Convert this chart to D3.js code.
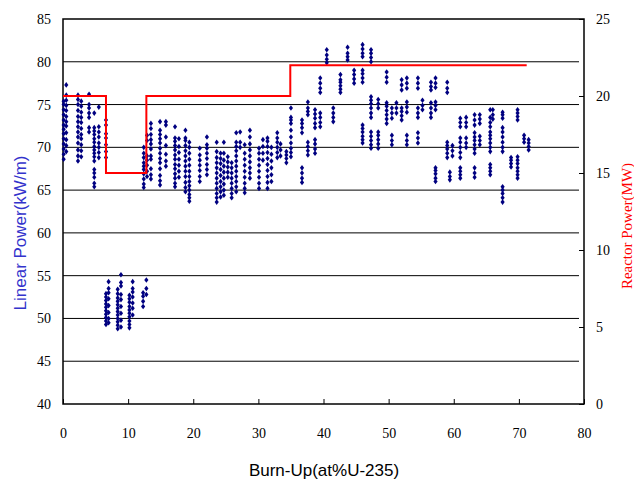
<!DOCTYPE html>
<html>
<head>
<meta charset="utf-8">
<script src="https://cdn.jsdelivr.net/npm/d3@7"></script>
<style>
  body { margin: 0; background: #fff; }
</style>
</head>
<body>
<div id="chart"></div>
<script>

  // burn-up (at%U-235) and measured linear power (kW/m), one entry per column of points
  var cycle1 = [
    [0.1, [68.6, 69.2, 69.8, 70.4, 71.0, 71.6, 72.1, 72.6, 73.2, 73.8, 74.4, 75.0, 75.4]],
    [0.5, [69.5, 70.2, 70.9, 71.7, 72.5, 73.0, 73.6, 74.3, 74.9, 75.5, 76.1, 77.3]],
    [2.3, [68.4, 69.0, 69.7, 70.5, 71.2, 71.8, 72.4, 73.0, 73.6, 74.3, 75.0, 75.6, 76.1]],
    [2.8, [68.9, 69.6, 70.3, 71.0, 71.5, 72.2, 72.9, 73.5, 74.1, 74.8, 75.4]],
    [4.0, [71.8, 72.3, 73.5, 74.0, 74.6, 75.0, 76.2]],
    [4.8, [65.4, 65.8, 66.5, 67.0, 67.4, 68.4, 68.9, 69.3, 69.7, 70.1, 70.6, 71.0, 71.5, 71.9, 72.3, 74.0]],
    [5.5, [68.8, 69.4, 70.0, 70.5, 71.2, 71.8, 72.4, 74.7]],
    [6.6, [68.8, 69.5, 70.3, 71.1, 71.6, 72.6, 73.2]]
  ];

  var cycle2 = [
    [6.6, [49.3, 49.7, 50.1, 50.5, 50.9, 51.3, 51.7, 52.1, 52.5, 52.9]],
    [7.0, [49.5, 50.0, 50.7, 51.5, 52.3, 53.0, 53.5, 54.3]],
    [8.4, [48.8, 49.2, 49.6, 50.0, 50.4, 50.8, 51.2, 51.6, 52.0, 52.4, 52.9, 53.4]],
    [8.9, [49.0, 49.8, 50.6, 51.4, 52.2, 52.8, 53.8, 54.2, 55.1]],
    [10.2, [48.9, 49.3, 49.7, 50.2, 50.6, 51.0, 51.4, 51.9, 52.3, 52.7]],
    [10.7, [50.4, 51.2, 51.8, 52.5, 53.1, 53.5, 54.3]],
    [12.3, [51.4, 52.0, 52.6, 53.0]],
    [12.8, [52.8, 53.5, 54.5]]
  ];

  var cycle3 = [
    [12.4, [65.3, 65.7, 66.3, 66.9, 67.4, 67.8, 68.2, 68.8, 69.3, 70.0]],
    [12.9, [66.6, 67.2, 67.9, 68.5, 69.0, 70.8, 71.4]],
    [13.5, [66.3, 66.8, 67.5, 68.6, 69.0, 69.8, 70.4, 70.9, 71.5, 72.2, 72.8]],
    [14.9, [65.6, 66.1, 66.7, 67.5, 68.2, 68.7, 69.3, 69.9, 70.5, 71.0, 71.5, 72.0, 73.0]],
    [15.8, [67.8, 68.4, 69.2, 70.2, 71.2, 72.6, 73.0]],
    [17.2, [65.4, 65.8, 66.4, 66.9, 67.5, 68.0, 68.6, 69.1, 69.7, 70.2, 70.7, 71.1, 72.4]],
    [17.8, [66.5, 67.2, 67.9, 68.6, 69.4, 70.1, 71.0]],
    [18.8, [64.8, 65.3, 65.9, 66.6, 67.2, 67.8, 68.4, 69.0, 69.6, 70.2, 70.8, 71.1, 72.0]],
    [19.4, [63.7, 64.1, 64.5, 65.0, 65.5, 66.0, 66.6, 67.2, 67.9, 68.6, 69.3, 70.0, 70.6]],
    [21.0, [66.0, 66.6, 67.3, 67.9, 68.5, 69.1, 69.9]],
    [22.1, [66.8, 67.4, 68.0, 68.7, 69.3, 69.9, 70.3, 71.2]],
    [23.6, [63.6, 64.1, 64.6, 65.2, 65.8, 66.4, 67.0, 67.6, 68.2, 68.8, 69.5, 70.6]],
    [24.2, [64.2, 64.8, 65.4, 66.0, 66.7, 67.4, 68.1, 68.7, 69.3]],
    [24.7, [64.4, 65.0, 65.7, 66.4, 67.1, 67.8, 68.5, 69.3, 70.6]],
    [25.3, [66.5, 67.1, 67.7, 68.3, 68.9]],
    [25.9, [64.1, 64.6, 65.2, 65.8, 66.4, 67.0, 67.6, 68.2]],
    [26.6, [64.8, 65.4, 66.0, 66.6, 67.2, 67.8, 68.4, 69.0, 69.6, 70.1, 70.6, 71.7]],
    [27.2, [70.0, 70.6, 71.8]],
    [27.9, [64.7, 65.2, 65.8, 66.5, 67.2, 67.9, 68.6, 69.3, 70.3]],
    [28.7, [66.4, 67.0, 67.6, 68.3, 69.0, 69.7, 70.4, 71.2, 72.0]],
    [30.1, [65.2, 65.8, 66.5, 67.2, 67.9, 68.6, 69.3, 69.9]],
    [30.7, [68.5, 69.3, 70.1, 70.9]],
    [31.4, [65.2, 65.9, 66.6, 67.3, 68.0, 68.7, 69.4, 70.1, 70.7, 71.1]],
    [32.0, [66.0, 66.8, 67.6, 68.4, 69.2, 70.0]],
    [32.9, [68.8, 69.4, 70.0, 70.6, 71.1, 71.7]],
    [33.4, [69.0, 69.7, 70.4]],
    [34.3, [68.2, 68.7, 69.1, 69.5]],
    [35.0, [68.9, 69.4, 69.9, 70.5, 71.2, 72.0, 72.8, 73.2, 73.5, 74.6]]
  ];

  var cycle4 = [
    [36.7, [65.9, 66.4, 67.0, 67.6, 71.7, 72.3, 72.8, 73.2]],
    [37.6, [69.1, 69.6, 70.1, 70.6, 73.8, 74.2, 74.6, 75.3]],
    [38.7, [69.3, 69.8, 70.4, 70.9, 72.3, 72.8, 73.4, 73.9, 74.4]],
    [39.5, [72.4, 72.9, 73.5, 74.0, 76.4, 76.9, 77.5, 78.1]],
    [40.5, [79.9, 80.3, 80.8, 81.4]],
    [41.5, [73.0, 73.5, 74.0, 74.6]],
    [42.6, [76.4, 76.8, 77.2, 77.6, 77.9, 78.5]],
    [43.7, [80.2, 80.6, 81.0, 81.7]],
    [44.7, [77.5, 78.0, 78.5, 79.0]],
    [46.0, [70.5, 70.9, 71.3, 71.8, 72.2, 72.6, 77.6, 78.1, 78.6, 79.0, 80.6, 81.0, 81.5, 82.0]],
    [47.3, [69.9, 70.3, 70.8, 71.3, 71.8, 73.5, 74.0, 74.6, 75.1, 75.5, 75.9, 80.0, 80.5, 81.0, 81.4]],
    [48.4, [69.9, 70.4, 70.9, 71.4, 71.8, 74.6, 75.1, 75.6]],
    [49.7, [72.8, 73.3, 73.8, 74.3, 74.8, 75.2, 77.6, 78.2, 78.8]],
    [50.5, [70.3, 70.8, 71.4, 73.4, 74.0, 74.6]],
    [51.2, [74.0, 74.6, 75.2]],
    [52.0, [73.2, 73.7, 74.2, 74.6, 76.7, 77.3, 77.9]],
    [52.8, [70.3, 70.8, 71.4, 74.1, 74.7, 75.3, 76.9, 77.5, 78.1]],
    [54.5, [70.5, 71.1, 71.7, 73.5, 74.0, 74.6, 76.9, 77.5, 78.1]],
    [55.2, [74.4, 74.9, 75.5]],
    [56.5, [73.5, 74.0, 74.6, 75.2, 76.7, 77.1, 77.6]],
    [57.2, [66.0, 66.4, 66.9, 67.3, 67.6, 74.4, 74.9, 75.3, 77.0, 77.5, 78.1]],
    [59.0, [68.8, 69.3, 69.8, 70.2, 70.6, 76.4, 76.9, 77.6]],
    [59.4, [66.2, 66.6, 67.1]],
    [59.8, [69.0, 69.6, 70.2]],
    [61.0, [66.4, 66.8, 67.2, 67.6, 68.8, 69.4, 70.0, 70.6, 71.1, 72.4, 72.9, 73.4]],
    [61.9, [70.0, 70.5, 71.1, 72.4, 72.9, 73.5]],
    [63.2, [66.5, 67.0, 67.6, 69.3, 69.8, 70.3, 70.8, 71.2, 71.7, 72.6, 73.2, 73.8]],
    [64.0, [70.3, 70.8, 71.3, 72.8, 73.3, 73.8]],
    [65.6, [66.8, 67.2, 67.6, 68.0, 69.5, 70.0, 70.5, 71.0, 71.4, 71.8, 72.4, 72.9, 73.5, 74.4]],
    [66.0, [73.3, 73.8, 74.4]],
    [67.5, [63.6, 64.1, 64.6, 65.0, 65.4, 69.5, 70.0, 70.6, 71.2, 71.8, 72.3, 73.4, 73.8, 74.1]],
    [68.8, [67.7, 68.1, 68.5, 68.8]],
    [69.8, [66.4, 66.8, 67.2, 67.6, 68.1, 68.5, 68.9, 73.2, 73.6, 74.0, 74.4]],
    [70.8, [70.6, 71.0, 71.4]],
    [71.5, [69.7, 70.1, 70.5, 70.9]]
  ];

  // reactor power history (MW), step changes at these burn-ups
  var powerBurnup = [0, 6.6, 12.8, 34.9, 71.2];
  var powerMW = [20, 15, 20, 22, 22];

  var xTicks = [0, 10, 20, 30, 40, 50, 60, 70, 80];
  var leftTicks = [40, 45, 50, 55, 60, 65, 70, 75, 80, 85];
  var rightTicks = [0, 5, 10, 15, 20, 25];

  var serif = '"Liberation Serif", "Times New Roman", Times, "DejaVu Serif", serif';
  var sans = '"Liberation Sans", Arial, sans-serif';

  var chart = {

    init: function(){

      this.svg = d3.select('#chart')
                   .append('svg')
                   .attr('width', 634)
                   .attr('height', 482)
                   .style('background-color', 'white');

      var x = d3.scaleLinear().domain([0, 80]).range([63, 584]);
      var yL = d3.scaleLinear().domain([40, 85]).range([404, 19]);
      var yR = d3.scaleLinear().domain([0, 25]).range([404, 19]);

      // gridlines
      this.svg.append('g').selectAll('line')
          .data(leftTicks.slice(1, -1))
          .enter().append('line')
          .attr('x1', 63).attr('x2', 579)
          .attr('y1', function(d){ return yL(d); })
          .attr('y2', function(d){ return yL(d); })
          .style('stroke', '#000')
          .style('stroke-width', 1);

      // frame
      this.svg.append('rect')
          .attr('x', 63).attr('y', 19)
          .attr('width', 521).attr('height', 385)
          .style('fill', 'none')
          .style('stroke', '#000')
          .style('stroke-width', 1.5);

      var bottom = this.svg.append('g')
          .attr('transform', 'translate(0,404)')
          .call(d3.axisBottom(x).tickValues(xTicks).tickSizeInner(-5).tickSizeOuter(0).tickPadding(24));
      var left = this.svg.append('g')
          .attr('transform', 'translate(63,0)')
          .call(d3.axisLeft(yL).tickValues(leftTicks).tickSize(0).tickPadding(12));
      var right = this.svg.append('g')
          .attr('transform', 'translate(584,0)')
          .call(d3.axisRight(yR).tickValues(rightTicks).tickSizeInner(-5).tickSizeOuter(0).tickPadding(12));

      [bottom, left, right].forEach(function(a){
        a.select('.domain').remove();
        a.selectAll('line').style('stroke', '#000');
        a.selectAll('text')
         .style('font-family', serif)
         .style('font-size', '14px')
         .style('fill', '#000');
      });

      // measured points
      var points = [];
      [cycle1, cycle2, cycle3, cycle4].forEach(function(cyc){
        cyc.forEach(function(col){
          col[1].forEach(function(v){ points.push({b: col[0], p: v}); });
        });
      });

      var diamond = d3.symbol().type(d3.symbolDiamond).size(9);
      this.svg.append('g').selectAll('path')
          .data(points)
          .enter().append('path')
          .attr('d', diamond)
          .attr('transform', function(d){ return 'translate(' + x(d.b) + ',' + yL(d.p) + ') scale(1.3,1)'; })
          .style('fill', '#000080');

      // reactor power step line
      var steps = powerBurnup.map(function(b, i){ return [b, powerMW[i]]; });
      var line = d3.line()
          .x(function(d){ return x(d[0]); })
          .y(function(d){ return yR(d[1]); })
          .curve(d3.curveStepAfter);
      this.svg.append('path')
          .datum(steps)
          .attr('d', line)
          .style('fill', 'none')
          .style('stroke', '#ff0000')
          .style('stroke-width', 2);

      // axis titles
      this.svg.append('text')
          .attr('transform', 'translate(26,233) rotate(-90)')
          .attr('text-anchor', 'middle')
          .style('font-family', sans)
          .style('font-size', '17px')
          .style('fill', '#3333cc')
          .text('Linear Power(kW/m)');

      this.svg.append('text')
          .attr('x', 324).attr('y', 476)
          .attr('text-anchor', 'middle')
          .style('font-family', sans)
          .style('font-size', '17px')
          .style('fill', '#000')
          .text('Burn-Up(at%U-235)');

      this.svg.append('text')
          .attr('transform', 'translate(632,226) rotate(-90)')
          .attr('text-anchor', 'middle')
          .style('font-family', serif)
          .style('font-size', '15px')
          .style('fill', '#ff0000')
          .text('Reactor Power(MW)');
    }
  };

  chart.init();
</script>
</body>
</html>
